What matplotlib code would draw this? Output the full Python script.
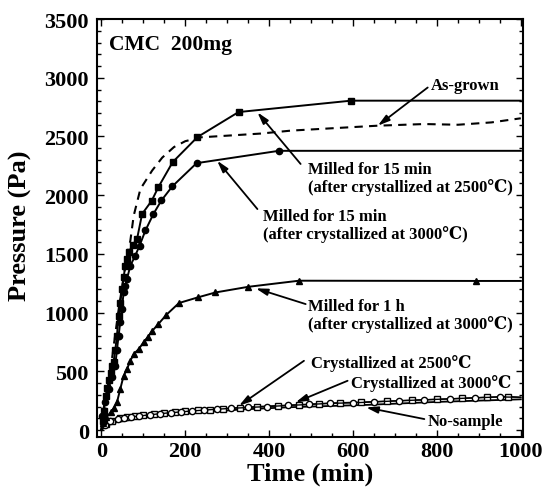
import matplotlib
matplotlib.use("Agg")
import matplotlib.pyplot as plt
from matplotlib.ticker import MultipleLocator

plt.rcParams['font.family'] = ['Liberation Serif', 'DejaVu Serif']
plt.rcParams['font.weight'] = 'bold'

# ---- data ----
t_asgrown = [0, 10, 25, 40, 55, 62, 69, 77, 93, 121, 145, 173, 200, 237, 300, 380, 452, 550, 659, 770, 850, 930, 1000]
p_asgrown = [0, 200, 600, 1000, 1350, 1500, 1612, 1825, 2053, 2210, 2320, 2410, 2460, 2493, 2507, 2525, 2550, 2570, 2592, 2606, 2600, 2620, 2655]

t_m15_2500 = [0, 3, 6, 10, 14, 18, 22, 26, 29, 33, 37, 41, 45, 49, 53, 57, 61, 65, 75, 85, 97, 120, 136, 170, 229, 327, 595, 1000]
p_m15_2500 = [0, 80, 160, 292, 360, 430, 490, 550, 580, 680, 800, 973, 1080, 1200, 1300, 1400, 1460, 1515, 1580, 1627, 1840, 1953, 2070, 2282, 2495, 2708, 2805, 2805]

t_m15_3000 = [0, 2, 8, 17, 25, 33, 37, 41, 45, 49, 53, 57, 61, 69, 80, 91, 105, 124, 143, 169, 227, 423, 1000]
p_m15_3000 = [0, 122, 240, 350, 450, 548, 680, 803, 920, 1030, 1175, 1230, 1286, 1400, 1480, 1570, 1700, 1840, 1955, 2075, 2273, 2378, 2378]

t_m1h = [0, 5, 12, 22, 30, 37, 45, 53, 61, 69, 77, 89, 101, 110, 120, 135, 155, 185, 230, 272, 350, 471, 894, 1000]
p_m1h = [0, 60, 110, 150, 190, 235, 350, 462, 520, 590, 647, 690, 750, 790, 840, 900, 982, 1082, 1130, 1172, 1220, 1272, 1270, 1270]

t_c2500 = [0, 10, 25, 45, 60, 80, 100, 125, 150, 175, 200, 230, 260, 290, 330, 370, 420, 470, 520, 570, 620, 680, 740, 800, 860, 920, 970, 1000]
p_c2500 = [0, 50, 80, 100, 110, 118, 125, 135, 145, 152, 160, 168, 175, 183, 192, 200, 208, 216, 225, 233, 238, 246, 254, 262, 270, 280, 286, 278]

t_c3000 = [0, 8, 20, 40, 55, 70, 90, 115, 140, 165, 190, 215, 245, 275, 310, 350, 395, 445, 495, 545, 600, 650, 710, 770, 830, 890, 950, 1000]
p_c3000 = [0, 45, 75, 95, 105, 112, 120, 130, 140, 148, 155, 163, 170, 178, 185, 193, 200, 210, 218, 228, 232, 240, 250, 258, 266, 275, 282, 280]

t_nosample = [0, 10, 20, 40, 57, 100, 150, 237, 330, 450, 635, 800, 1000]
p_nosample = [0, 30, 50, 70, 80, 105, 125, 150, 175, 195, 215, 240, 262]

x_ticks = [0, 200, 400, 600, 800, 1000]
y_ticks = [0, 500, 1000, 1500, 2000, 2500, 3000, 3500]

# annotations: (text, text position, arrow tail, arrow tip)
labels = [
    ("As-grown", (786, 2938), (778, 2917), (659, 2592)),
    ("Milled for 15 min\n(after crystallized at 2500\u2103)", (492, 2146), (475, 2266), (372, 2706)),
    ("Milled for 15 min\n(after crystallized at 3000\u2103)", (385, 1746), (372, 1882), (276, 2294)),
    ("Milled for 1 h\n(after crystallized at 3000\u2103)", (492, 980), (487, 1073), (368, 1207)),
    ("Crystallized at 2500\u2103", (499, 579), (483, 590), (328, 207)),
    ("Crystallized at 3000\u2103", (595, 409), (587, 420), (463, 236)),
    ("No-sample", (779, 77), (770, 94), (631, 193)),
]

fig = plt.figure(figsize=(5.43, 4.89), dpi=100)
ax = fig.add_axes([0.179, 0.104, 0.784, 0.855])

ax.plot(t_nosample, p_nosample, '-', color='black', lw=1.3)
ax.plot(t_c2500, p_c2500, '-', color='black', lw=1.0, marker='s', ms=4.3,
        mfc='white', mec='black', mew=1.0, markevery=list(range(1, len(t_c2500) - 1)))
ax.plot(t_c3000, p_c3000, '-', color='black', lw=1.0, marker='o', ms=4.5,
        mfc='white', mec='black', mew=1.0, markevery=list(range(1, len(t_c3000) - 1)))
ax.plot(t_asgrown, p_asgrown, '--', color='black', lw=1.5, dashes=(4, 3))
ax.plot(t_m15_2500, p_m15_2500, '-', color='black', lw=1.4, marker='s', ms=4.5,
        markevery=list(range(1, len(t_m15_2500) - 1)))
ax.plot(t_m15_3000, p_m15_3000, '-', color='black', lw=1.4, marker='o', ms=4.5,
        markevery=list(range(1, len(t_m15_3000) - 1)))
ax.plot(t_m1h, p_m1h, '-', color='black', lw=1.4, marker='^', ms=4.5,
        markevery=list(range(1, len(t_m1h) - 1)))

for txt, tpos, tail, tip in labels:
    ax.text(tpos[0], tpos[1], txt, fontsize=12, fontweight='bold', ha='left', va='center',
            linespacing=1.05, family=['Liberation Serif', 'DejaVu Serif'])
    ax.annotate('', xy=tip, xytext=tail,
                arrowprops=dict(arrowstyle='-|>,head_length=0.7,head_width=0.2', color='black',
                                lw=1.3, shrinkA=0, shrinkB=0))

ax.text(17, 3288, "CMC  200mg", fontsize=15.5, fontweight='bold', ha='left', va='center')

ax.set_xlim(-10, 1005)
ax.set_ylim(-60, 3500)
ax.set_xticks(x_ticks)
ax.set_yticks(y_ticks)
ax.set_xticklabels([str(v) for v in x_ticks])
ax.set_yticklabels([str(v) for v in y_ticks])
ax.xaxis.set_minor_locator(MultipleLocator(50))
ax.yaxis.set_minor_locator(MultipleLocator(100))
ax.tick_params(which='both', direction='in', top=True, right=True, width=1.0)
ax.tick_params(which='major', length=5)
ax.tick_params(which='minor', length=3)
ax.tick_params(axis='x', labelsize=16, pad=3)
ax.tick_params(axis='y', labelsize=16, pad=6)
for lab in ax.get_xticklabels() + ax.get_yticklabels():
    lab.set_fontweight('bold')
for s in ax.spines.values():
    s.set_linewidth(1.5)

ax.set_xlabel("Time (min)", fontsize=19, fontweight='bold', labelpad=0)
ax.set_ylabel("Pressure (Pa)", fontsize=19, fontweight='bold')
ax.yaxis.set_label_coords(-0.152, 0.507)

fig.savefig("out.png", dpi=100)
